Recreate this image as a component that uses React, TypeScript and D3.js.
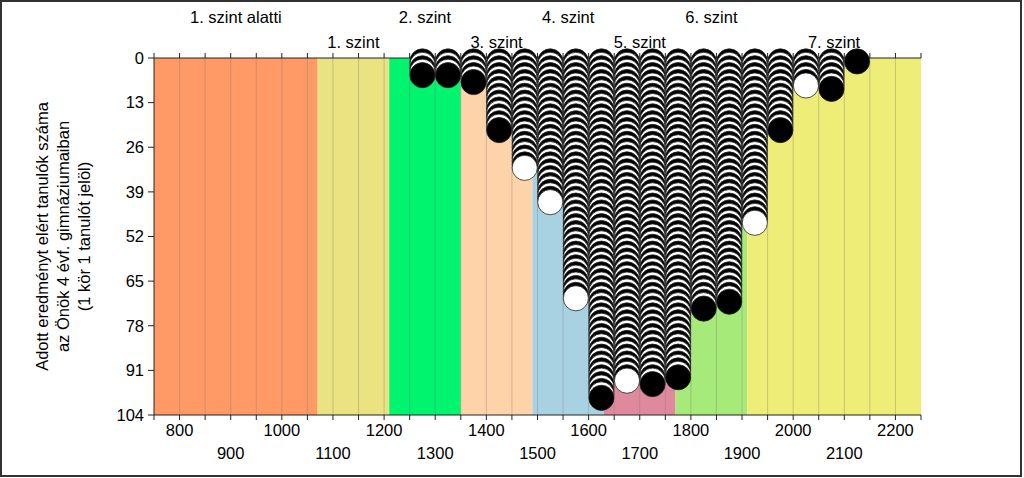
import React from "react";
import * as d3 from "d3";

// Performance level bands (score ranges)
const bandNames = ["1. szint alatti", "1. szint", "2. szint", "3. szint", "4. szint", "5. szint", "6. szint", "7. szint"];
const bandStarts = [750, 1070, 1210, 1350, 1490, 1630, 1770, 1910];
const bandEnds = [1070, 1210, 1350, 1490, 1630, 1770, 1910, 2250];
const bandColors = ["#FF9966", "#EBE282", "#00F46E", "#FFD3AA", "#A8D2E2", "#DF8A9C", "#A6EA79", "#EEED78"];
const bandLabelRow = [0, 1, 0, 1, 0, 1, 0, 1];

// Score bins (column centers) and number of students in each
const scoreBins = [1275, 1325, 1375, 1425, 1475, 1525, 1575, 1625, 1675, 1725, 1775, 1825, 1875, 1925, 1975, 2025, 2075, 2125];
const studentCounts = [5, 5, 7, 21, 32, 42, 70, 99, 94, 95, 93, 73, 71, 48, 21, 8, 9, 1];

const yTicks = [0, 13, 26, 39, 52, 65, 78, 91, 104];
const xLabelsRow1 = [800, 1000, 1200, 1400, 1600, 1800, 2000, 2200];
const xLabelsRow2 = [900, 1100, 1300, 1500, 1700, 1900, 2100];
const xMinorTicks = d3.range(750, 2251, 50);

const yTitle = ["Adott eredményt elért tanulók száma", "az Önök 4 évf. gimnáziumaiban", "(1 kör 1 tanulót jelöl)"];

const W = 1024;
const H = 478;
const FONT = "Arial, 'Liberation Sans', sans-serif";
const FS = 16.5;

export default function App() {
  const x = d3.scaleLinear().domain([750, 2250]).range([154, 921]);
  const y = d3.scaleLinear().domain([0, 104]).range([58, 415]);
  const r = (x(800) - x(750)) / 2 - 0.2;

  const circles: JSX.Element[] = [];
  scoreBins.forEach((bin, ci) => {
    const n = studentCounts[ci];
    for (let i = 1; i <= n; i++) {
      const black = i % 2 === 1;
      circles.push(
        <circle
          key={`${ci}-${i}`}
          cx={x(bin)}
          cy={y(i)}
          r={r}
          fill={black ? "#000000" : "#ffffff"}
          stroke="#222"
          strokeWidth={0.8}
        />
      );
    }
  });

  return (
    <svg width={W} height={H} style={{ position: "absolute", left: 0, top: 0, background: "#fff" }} fontFamily={FONT}>
      <rect x={0} y={0} width={W} height={H} fill="#fff" />
      {/* bands */}
      {bandStarts.map((s, i) => (
        <rect key={`b${i}`} x={x(s)} y={y(0)} width={x(bandEnds[i]) - x(s)} height={y(104) - y(0)} fill={bandColors[i]} />
      ))}
      {/* grid lines */}
      {xMinorTicks.slice(1, -1).map((v) => (
        <line key={`g${v}`} x1={x(v)} x2={x(v)} y1={y(0)} y2={y(104)} stroke="rgba(120,120,120,0.35)" strokeWidth={1} />
      ))}
      {/* top axis */}
      <line x1={x(750)} x2={x(2250)} y1={y(0)} y2={y(0)} stroke="#222" strokeWidth={1} />
      {xMinorTicks.map((v) => (
        <line key={`tt${v}`} x1={x(v)} x2={x(v)} y1={y(0) - 5} y2={y(0)} stroke="#222" strokeWidth={1} />
      ))}
      {/* bottom axis */}
      <line x1={x(750)} x2={x(2250)} y1={y(104)} y2={y(104)} stroke="#222" strokeWidth={1} />
      {xMinorTicks.map((v) => (
        <line key={`bt${v}`} x1={x(v)} x2={x(v)} y1={y(104)} y2={y(104) + 5} stroke="#222" strokeWidth={1} />
      ))}
      {/* left axis */}
      <line x1={x(750)} x2={x(750)} y1={y(0)} y2={y(104)} stroke="#222" strokeWidth={1} />
      {yTicks.map((v) => (
        <g key={`yt${v}`}>
          <line x1={x(750) - 6} x2={x(750)} y1={y(v)} y2={y(v)} stroke="#222" strokeWidth={1} />
          <text x={x(750) - 10} y={y(v)} dy="0.35em" textAnchor="end" fontSize={FS} fill="#000">
            {v}
          </text>
        </g>
      ))}
      {/* x labels */}
      {xLabelsRow1.map((v) => (
        <text key={`xl1${v}`} x={x(v)} y={436} textAnchor="middle" fontSize={FS} fill="#000">
          {v}
        </text>
      ))}
      {xLabelsRow2.map((v) => (
        <text key={`xl2${v}`} x={x(v)} y={459} textAnchor="middle" fontSize={FS} fill="#000">
          {v}
        </text>
      ))}
      {/* circles */}
      {circles}
      {/* band labels */}
      {bandNames.map((name, i) => (
        <text
          key={`bl${i}`}
          x={x((bandStarts[i] + bandEnds[i]) / 2)}
          y={bandLabelRow[i] === 0 ? 23 : 48}
          textAnchor="middle"
          fontSize={FS}
          fill="#000"
        >
          {name}
        </text>
      ))}
      {/* y title */}
      <g transform={`translate(0, ${(y(0) + y(104)) / 2}) rotate(-90)`}>
        {yTitle.map((t, i) => (
          <text key={`yt${i}`} x={0} y={48 + i * 21} textAnchor="middle" fontSize={FS} fill="#000">
            {t}
          </text>
        ))}
      </g>
      {/* frame */}
      <rect x={1} y={1} width={1020} height={475} fill="none" stroke="#333" strokeWidth={2} />
    </svg>
  );
}
